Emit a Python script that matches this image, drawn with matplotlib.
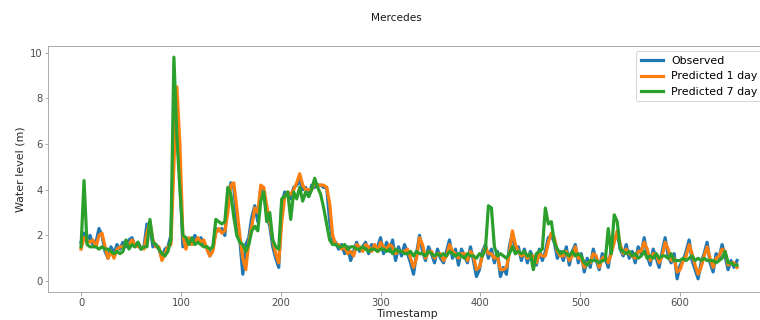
import numpy as np
import matplotlib.pyplot as plt

# values, one every 3 timestamps
observed = [
    1.7, 2.1, 1.7, 2.0, 1.6, 1.7, 2.3, 2.0, 1.3, 1.0,
    1.5, 1.2, 1.6, 1.4, 1.7, 1.5, 1.8, 1.9, 1.5, 1.7,
    1.4, 1.5, 2.5, 2.4, 1.5, 1.6, 1.4, 1.0, 1.4, 1.5,
    2.0, 6.5, 7.3, 4.6, 1.5, 1.9, 1.8, 1.6, 2.0, 1.7,
    1.9, 1.6, 1.5, 1.1, 1.4, 2.3, 2.2, 2.3, 2.0, 3.6,
    4.3, 4.1, 2.6, 1.8, 0.3, 1.6, 1.9, 2.8, 3.3, 2.6,
    4.1, 3.9, 2.9, 2.4, 1.5, 1.0, 0.6, 3.4, 3.9, 3.8,
    3.6, 4.1, 4.2, 4.4, 4.0, 4.1, 3.7, 4.2, 4.1, 4.2,
    4.2, 4.1, 4.1, 2.6, 1.8, 1.7, 1.4, 1.6, 1.2, 1.5,
    0.9, 1.3, 1.7, 1.3, 1.5, 1.7, 1.2, 1.6, 1.4, 1.5,
    1.9, 1.2, 1.7, 1.3, 1.8, 0.9, 1.5, 1.1, 1.6, 1.2,
    0.8, 0.3, 1.2, 2.0, 1.3, 0.9, 1.5, 1.2, 0.8, 1.4,
    1.0, 0.8, 1.3, 1.8, 1.0, 1.4, 0.7, 1.4, 1.1, 0.8,
    1.5, 0.9, 0.2, 0.5, 1.3, 1.6, 1.0, 1.4, 0.8, 1.3,
    0.2, 0.6, 0.3, 1.5, 2.1, 1.2, 1.5, 0.9, 1.4, 0.8,
    1.3, 1.0, 0.7, 1.4, 0.9, 1.3, 1.9, 2.0, 1.7, 1.0,
    1.3, 0.9, 1.5, 0.7, 1.3, 1.6, 0.8, 1.2, 0.4, 1.0,
    0.6, 1.4, 0.9, 0.5, 1.2, 1.0, 0.6, 1.4, 1.8, 2.1,
    1.4, 1.1, 1.6, 1.0, 1.3, 0.8, 1.5, 1.2, 1.9, 1.1,
    0.7, 1.4, 1.0, 0.6, 1.3, 1.9, 1.1, 0.8, 1.2, 0.1,
    0.7, 0.9, 1.3, 1.8, 0.9, 0.5, 0.1, 0.8, 1.2, 1.7,
    0.8, 0.4, 1.2, 1.0, 1.6, 1.1, 0.5, 0.9, 0.6, 0.9,
]

pred_1day = [
    1.4, 1.9, 1.8, 1.7, 1.8, 1.5, 2.0, 2.1, 1.5, 1.0,
    1.3, 1.0, 1.4, 1.5, 1.5, 1.6, 1.6, 1.8, 1.6, 1.5,
    1.5, 1.4, 2.1, 2.6, 1.8, 1.5, 1.5, 0.9, 1.2, 1.5,
    1.6, 5.0, 8.5, 6.0, 2.0, 1.4, 1.9, 1.6, 1.7, 1.9,
    1.7, 1.8, 1.4, 1.1, 1.3, 2.1, 2.3, 2.1, 2.2, 3.0,
    4.2, 4.3, 3.2, 2.0, 1.0, 0.5, 1.7, 2.4, 3.2, 3.0,
    4.2, 4.1, 3.3, 2.6, 1.8, 1.2, 0.8, 2.6, 3.7, 3.9,
    3.8, 4.0, 4.3, 4.7, 4.2, 4.0, 4.0, 4.0, 4.3, 4.2,
    4.2, 4.2, 4.1, 3.4, 2.0, 1.6, 1.6, 1.4, 1.5, 1.2,
    1.3, 1.1, 1.6, 1.5, 1.3, 1.6, 1.5, 1.3, 1.6, 1.3,
    1.7, 1.5, 1.4, 1.6, 1.5, 1.2, 1.3, 1.3, 1.3, 1.4,
    1.0, 0.6, 1.0, 1.9, 1.6, 1.0, 1.3, 1.3, 1.0, 1.2,
    1.2, 0.9, 1.1, 1.6, 1.3, 1.2, 1.0, 1.2, 1.2, 0.9,
    1.3, 1.1, 0.5, 0.6, 1.1, 1.5, 1.2, 1.2, 1.0, 1.1,
    0.5, 0.5, 0.6, 1.2, 2.2, 1.6, 1.3, 1.1, 1.2, 1.0,
    1.1, 1.1, 0.8, 1.2, 1.1, 1.1, 1.7, 2.1, 1.9, 1.3,
    1.1, 1.1, 1.3, 0.9, 1.1, 1.5, 1.0, 1.0, 0.6, 0.8,
    0.8, 1.2, 1.1, 0.6, 1.0, 1.1, 0.8, 1.2, 1.7, 2.2,
    1.6, 1.2, 1.4, 1.2, 1.1, 1.0, 1.3, 1.3, 1.7, 1.4,
    0.9, 1.2, 1.2, 0.8, 1.1, 1.7, 1.4, 0.9, 1.0, 0.4,
    0.5, 0.9, 1.1, 1.6, 1.2, 0.7, 0.3, 0.6, 1.1, 1.5,
    1.0, 0.6, 1.0, 1.1, 1.4, 1.3, 0.7, 0.8, 0.8, 0.6,
]

pred_7day = [
    1.5, 4.4, 1.6, 1.5, 1.5, 1.5, 1.4, 1.5, 1.4, 1.4,
    1.3, 1.2, 1.3, 1.2, 1.3, 1.8, 1.4, 1.6, 1.5, 1.7,
    1.4, 1.5, 1.5, 2.7, 1.7, 1.6, 1.4, 1.2, 1.1, 1.3,
    1.8, 9.8, 6.3, 4.0, 2.0, 1.9, 1.6, 1.9, 1.6, 1.7,
    1.6, 1.5, 1.5, 1.4, 1.5, 2.7, 2.6, 2.5, 2.6, 4.1,
    3.8, 2.8, 2.0, 1.7, 1.6, 1.3, 1.6, 2.2, 2.4, 2.2,
    3.5, 3.9, 2.6, 3.0, 1.8, 1.5, 1.4, 3.6, 3.7, 3.9,
    2.7, 3.9, 3.6, 4.1, 3.5, 3.9, 3.7, 4.0, 4.5, 4.1,
    3.8, 3.2, 2.5, 1.8, 1.6, 1.6, 1.5, 1.5, 1.6, 1.4,
    1.5, 1.5, 1.4, 1.4, 1.5, 1.4, 1.3, 1.4, 1.4, 1.3,
    1.4, 1.4, 1.3, 1.4, 1.2, 1.4, 1.3, 1.3, 1.2, 1.2,
    1.3, 1.1, 1.3, 1.2, 1.2, 1.1, 1.3, 1.2, 1.1, 1.2,
    1.1, 1.2, 1.1, 1.3, 1.2, 1.1, 1.2, 1.1, 1.0, 1.2,
    1.1, 1.1, 1.0, 1.2, 1.1, 1.4, 3.3, 3.2, 1.5, 1.1,
    1.2, 1.1, 1.0, 1.2, 1.5, 1.2, 1.3, 1.2, 1.3, 1.1,
    1.2, 0.5, 1.2, 1.3, 1.4, 3.2, 2.5, 2.6, 1.7, 1.4,
    1.2, 1.3, 1.2, 1.1, 1.3, 1.1, 1.2, 1.1, 0.8, 0.7,
    0.9, 0.9, 0.9, 0.8, 0.9, 0.9, 2.3, 1.2, 2.9, 2.6,
    1.4, 1.3, 1.2, 1.3, 1.1, 1.2, 1.0, 1.1, 1.3, 1.0,
    1.1, 1.0, 1.2, 1.0, 1.1, 1.1, 1.0, 1.2, 0.9, 0.9,
    0.9, 1.0, 0.9, 1.0, 1.1, 0.9, 1.0, 0.9, 1.0, 0.9,
    0.9, 0.9, 0.8, 0.9, 1.0, 1.3, 0.8, 0.8, 0.7, 0.7,
]

step = 3

fig = plt.figure(figsize=(760 / 72, 320 / 72), dpi=72)
# axes run slightly past the right edge, as in the cropped reference
ax = fig.add_axes([0.0636, 0.0866, 0.9466, 0.7697])

ax.plot(np.arange(len(observed)) * step, observed, color='#1f77b4', lw=3.2, label='Observed')
ax.plot(np.arange(len(pred_1day)) * step, pred_1day, color='#ff7f0e', lw=3.2, label='Predicted 1 day')
ax.plot(np.arange(len(pred_7day)) * step, pred_7day, color='#2ca02c', lw=3.2, label='Predicted 7 day')

ax.set_xlim(-32.75, 687.75)
ax.set_ylim(-0.49, 10.29)
ax.set_xticks([0, 100, 200, 300, 400, 500, 600])
ax.set_yticks([0, 2, 4, 6, 8, 10])

for s in ax.spines.values():
    s.set_color('0.6')
ax.tick_params(colors='0.6', labelcolor='0.3', labelsize=10, pad=2.5)

ax.set_xlabel('Timestamp', fontsize=11, color='0.15', labelpad=1)
ax.set_ylabel('Water level (m)', fontsize=11, color='0.15')
fig.text(396 / 760, 1 - 18 / 320, 'Mercedes', ha='center', va='center', fontsize=10.5, color='0.1')

ax.legend(loc='upper right', fontsize=11)

fig.savefig('out.png', dpi=72)
